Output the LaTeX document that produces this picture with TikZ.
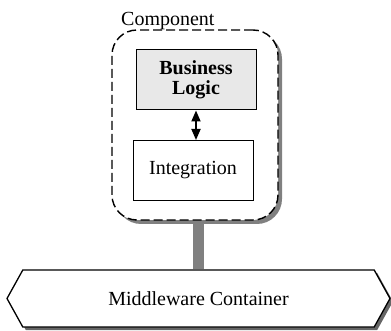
\documentclass[tikz,border=0pt]{standalone}
\usepackage{fontspec}
\setmainfont{Liberation Serif}
\usetikzlibrary{arrows.meta,shapes.symbols,shadows,backgrounds}
\begin{document}
\begin{tikzpicture}[x=1pt,y=-1pt,
  every node/.style={font=\fontsize{20}{20}\selectfont},
  container/.style={rectangle, rounded corners=25pt, draw, fill=white,
    line width=1.4pt, dash pattern=on 9pt off 4pt,
    minimum width=166pt, minimum height=190pt,
    general shadow={fill=black!50, shadow xshift=4pt, shadow yshift=-4pt}},
  partbox/.style={rectangle, draw, line width=1pt, fill=white,
    minimum width=120pt, minimum height=60pt, inner sep=2pt, align=center},
  platform/.style={signal, signal to=west and east, signal pointer angle=122,
    draw, line width=1.3pt, fill=white,
    minimum width=383pt, minimum height=57pt, inner sep=0pt,
    general shadow={fill=black!60, shadow xshift=3pt, shadow yshift=-3pt}},
  link/.style={{Triangle[width=9pt,length=11pt]}-{Triangle[width=9pt,length=11pt]},
    line width=1.8pt}]
  \useasboundingbox (0,0) rectangle (391,331);

  % middleware platform at the bottom
  \node[platform] (mw) at (198.5,298.5) {Middleware Container};

  % component with its two parts
  \node[container] (comp) at (195,125) {};
  \node[anchor=base west, inner sep=0pt] (lbl) at (121,26) {Component};
  \node[partbox, fill=black!9, font=\fontsize{20}{20}\selectfont\bfseries]
    (biz) at (196,80) {Business\\Logic};
  \node[partbox] (integ) at (193,170.5) {Integration};

  \draw[link] (biz.south) -- (biz.south |- integ.north);

  % gray mount between component and container
  \begin{pgfonlayer}{background}
    \draw[line width=11pt, black!50] (mw.north) -- (mw.north |- comp.south);
  \end{pgfonlayer}
\end{tikzpicture}
\end{document}
